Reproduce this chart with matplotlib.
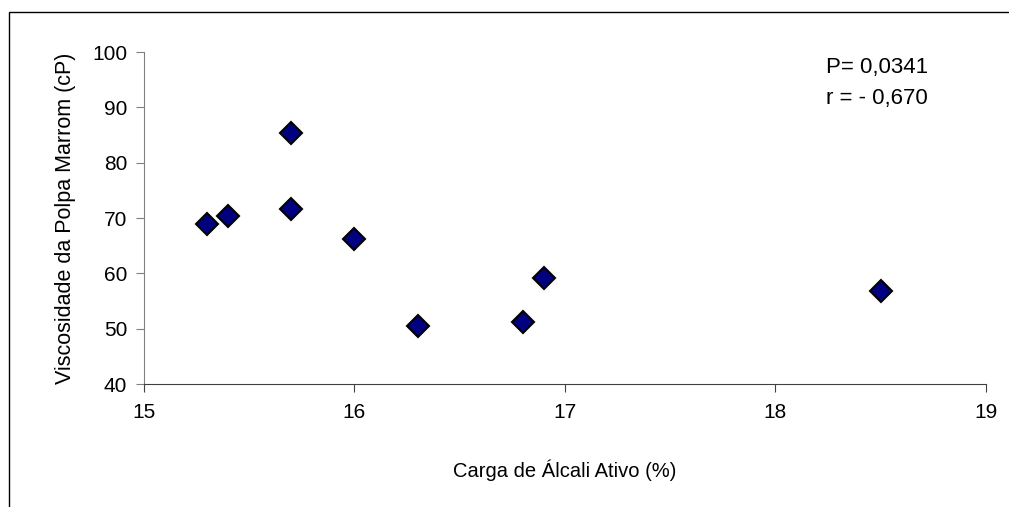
import numpy as np
import matplotlib.pyplot as plt
from matplotlib.patches import Rectangle

plt.rcParams['font.family'] = ['Liberation Sans', 'DejaVu Sans']

carga = [15.3, 15.4, 15.7, 15.7, 16.0, 16.3, 16.8, 16.9, 18.5]        # Carga de Álcali Ativo (%)
viscosidade = [68.9, 70.3, 85.4, 71.6, 66.2, 50.4, 51.2, 59.2, 56.8]  # Viscosidade (cP)
xticks = [15, 16, 17, 18, 19]
yticks = [40, 50, 60, 70, 80, 90, 100]

fig = plt.figure(figsize=(10.09, 5.07), dpi=100)
ax = fig.add_axes([0.1427, 0.2426, 0.8345, 0.6548])

# moldura externa (cortada à direita e embaixo)
fig.patches.append(Rectangle((9 / 1009, -0.1), 1.1, 1 - 12 / 507 + 0.1,
                             transform=fig.transFigure, fill=False,
                             edgecolor='black', linewidth=1.0))

ax.plot(carga, viscosidade, linestyle='none', marker='D', markersize=11,
        markerfacecolor='#000080', markeredgecolor='black', markeredgewidth=1.5,
        clip_on=False, zorder=3)

ax.set_xlim(15, 19)
ax.set_ylim(40, 100)
ax.set_xticks(xticks)
ax.set_yticks(yticks)
ax.tick_params(axis='both', direction='out', length=6, labelsize=15, pad=6)
ax.tick_params(axis='y', color='#808080')
ax.tick_params(axis='x', color='#404040', pad=8)

for s in ['top', 'right']:
    ax.spines[s].set_visible(False)
ax.spines['left'].set_color('#808080')
ax.spines['bottom'].set_color('#404040')

ax.set_xlabel('Carga de Álcali Ativo (%)', fontsize=14.5, labelpad=27)
ax.set_ylabel('Viscosidade da Polpa Marrom (cP)', fontsize=15.5, labelpad=12)

ax.text(0.81, 0.985, 'P= 0,0341\nr = - 0,670', transform=ax.transAxes,
        fontsize=16, va='top', ha='left', linespacing=1.65)

fig.savefig('out.png', dpi=100)
